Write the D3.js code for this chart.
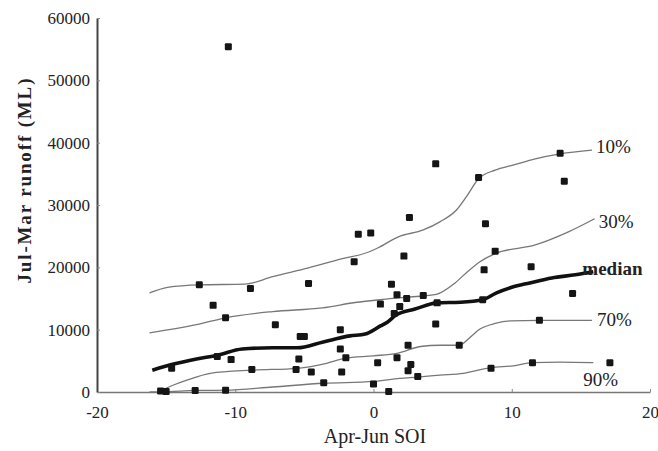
<!DOCTYPE html>
<html>
<head>
<meta charset="utf-8">
<script src="https://cdn.jsdelivr.net/npm/d3@7"></script>
<style>
  body { margin:0; background:#fff; }
  svg text { font-family:"Liberation Serif","Times New Roman",serif; fill:#222; }
</style>
</head>
<body>
<svg id="chart"></svg>
<script>
const width = 658;
const height = 451;

// scatter: Apr-Jun SOI vs Jul-Mar runoff (ML)
const soi = [-10.5, 4.5, 13.5, 7.6, 13.8, 2.6, -1.1, -0.2, 8.1, 2.2, 8.8, -1.4, 8.0, 11.4, 1.3, 14.4,
  -12.6, -8.9, -4.7, 1.7, 2.4, 3.6, 4.6, 7.9, 0.5, 1.9, 1.5, -11.6, -10.7, -7.1, -5.3, -5.0,
  -2.4, -2.4, 4.5, 12.0, -5.4, -2.0, -10.3, -14.6, -11.3, -8.8, -5.6, -4.5, -2.3, 0.3, 1.7,
  2.5, 6.2, 2.7, 2.5, 3.2, 8.5, 11.5, 17.1, -3.6, 0.0, 1.1, -15.4, -15.0, -12.9, -10.7]
const runoff = [55400, 36600, 38300, 34400, 33800, 28000, 25300, 25500, 27000, 21800, 22600, 20900, 19600, 20100, 17300, 15800,
  17200, 16600, 17400, 15600, 15000, 15500, 14300, 14800, 14100, 13700, 12600, 13900, 11900, 10800, 8900, 8900,
  10000, 6900, 10900, 11500, 5300, 5500, 5200, 3800, 5700, 3600, 3600, 3200, 3200, 4700, 5500,
  7500, 7500, 4400, 3400, 2500, 3800, 4700, 4700, 1500, 1300, 100, 150, 100, 250, 300]

// exceedance curves
const p10x = [-16.2, -14.9, -12.6, -9.3, -7.3, -4.7, -2.4, -0.3, 0.3, 1.8, 3.6, 4.8, 6.0, 6.8, 7.6, 8.8, 10.1, 11.7, 13.5, 15.8]
const p10y = [15900, 16800, 17200, 17300, 18500, 19900, 21300, 22500, 23100, 24900, 26000, 27300, 29200, 31600, 34200, 35600, 36400, 37400, 38200, 38800]
const p30x = [-16.2, -12.8, -10.7, -7.3, -3.7, -1.2, 0.5, 1.8, 3.5, 4.6, 5.9, 6.8, 7.7, 8.8, 11.7, 14.1, 16.0]
const p30y = [9500, 10800, 11900, 12900, 13500, 14400, 14800, 15100, 15400, 15700, 17500, 19300, 20900, 22200, 23600, 25700, 27800]
const medx = [-16.0, -14.6, -12.8, -11.3, -9.5, -7.3, -5.5, -3.7, -1.7, -0.6, 0.5, 1.0, 1.6, 3.0, 4.6, 6.3, 7.9, 8.9, 10.0, 11.3, 12.9, 14.6, 15.9]
const medy = [3500, 4400, 5300, 5900, 6900, 7100, 7100, 8000, 9000, 9300, 10600, 11200, 12300, 13300, 14300, 14400, 14800, 15900, 16800, 17500, 18300, 18800, 19300]
const p70x = [-15.4, -14.6, -13.5, -11.8, -8.8, -5.5, -3.4, -2.1, 0.0, 1.7, 3.4, 4.8, 6.2, 7.0, 7.7, 8.8, 9.9, 12.0, 15.8]
const p70y = [200, 1000, 1900, 3000, 3500, 3800, 4600, 5400, 5800, 6200, 7300, 7500, 7500, 8800, 10100, 11000, 11400, 11500, 11500]
const p90x = [-16.2, -15.4, -12.9, -10.7, -7.3, -3.6, 0.0, 1.9, 3.2, 4.8, 6.5, 8.5, 10.1, 11.5, 13.5, 15.9]
const p90y = [0, 0, 250, 300, 800, 1400, 1700, 2200, 2400, 2700, 3000, 3900, 4200, 4700, 4800, 4700]

const curveNames = ['10%', '30%', 'median', '70%', '90%']
const xTicks = [-20, -10, 0, 10, 20]
const yTicks = [0, 10000, 20000, 30000, 40000, 50000, 60000]

const svg = d3.select('#chart')
    .attr('width', width)
    .attr('height', height)
    .attr('viewBox', [0, 0, width, height])

const x = d3.scaleLinear().domain([-20, 20]).range([97, 650])
const y = d3.scaleLinear().domain([0, 60000]).range([392, 18])

// axes
const xAxis = svg.append('g')
    .attr('transform', `translate(0,${y(0)})`)
    .call(d3.axisBottom(x).tickValues(xTicks).tickFormat(d => String(d)).tickSize(-3).tickPadding(14).tickSizeOuter(0))
xAxis.select('.domain').attr('stroke', '#777').attr('stroke-width', 1.5)
xAxis.selectAll('.tick line').attr('stroke', '#888')
xAxis.selectAll('.tick text').style('font-size', '17px')

const yAxis = svg.append('g')
    .attr('transform', `translate(${x(-20)},0)`)
    .call(d3.axisLeft(y).tickValues(yTicks).tickFormat(d3.format('d')).tickSize(-3).tickPadding(7).tickSizeOuter(0))
yAxis.select('.domain').attr('stroke', '#444').attr('stroke-width', 2)
yAxis.selectAll('.tick line').attr('stroke', '#888')
yAxis.selectAll('.tick text').style('font-size', '17px')

// curves
const curves = [
  {name: curveNames[0], xs: p10x, ys: p10y},
  {name: curveNames[1], xs: p30x, ys: p30y},
  {name: curveNames[2], xs: medx, ys: medy},
  {name: curveNames[3], xs: p70x, ys: p70y},
  {name: curveNames[4], xs: p90x, ys: p90y}
]
const line = d3.line()
    .x(d => x(d[0]))
    .y(d => y(d[1]))
    .curve(d3.curveMonotoneX)

svg.append('g').selectAll('path')
    .data(curves)
    .enter()
      .append('path')
      .attr('d', c => line(c.xs.map((v, i) => [v, c.ys[i]])))
      .attr('fill', 'none')
      .attr('stroke', c => c.name === 'median' ? '#111' : '#777')
      .attr('stroke-width', c => c.name === 'median' ? 3.6 : 1.3)
      .attr('stroke-linejoin', 'round')

// points
svg.append('g').selectAll('rect')
    .data(soi)
    .enter()
      .append('rect')
      .attr('x', (d, i) => x(d) - 3.5)
      .attr('y', (d, i) => y(runoff[i]) - 3.5)
      .attr('width', 7)
      .attr('height', 7)
      .attr('rx', 1.2)
      .attr('fill', '#151515')

// curve labels, placed off the end of each curve
const labelOffset = [[4, 3], [4, 9], [-11, 3], [5, 6], [-10, 23]]
svg.append('g').selectAll('text')
    .data(curves)
    .enter()
      .append('text')
      .attr('x', (c, i) => x(c.xs[c.xs.length - 1]) + labelOffset[i][0])
      .attr('y', (c, i) => y(c.ys[c.ys.length - 1]) + labelOffset[i][1])
      .style('font-size', '19px')
      .style('font-weight', c => c.name === 'median' ? 'bold' : 'normal')
      .text(c => c.name)

// axis titles
svg.append('text')
    .attr('x', 375)
    .attr('y', 443)
    .attr('text-anchor', 'middle')
    .style('font-size', '20px')
    .text('Apr-Jun SOI')

svg.append('text')
    .attr('transform', 'translate(24,181) rotate(-90)')
    .attr('text-anchor', 'middle')
    .attr('dy', '0.35em')
    .attr('textLength', 205)
    .attr('lengthAdjust', 'spacing')
    .style('font-size', '19px')
    .style('font-weight', 'bold')
    .text('Jul-Mar runoff (ML)')
</script>
</body>
</html>
